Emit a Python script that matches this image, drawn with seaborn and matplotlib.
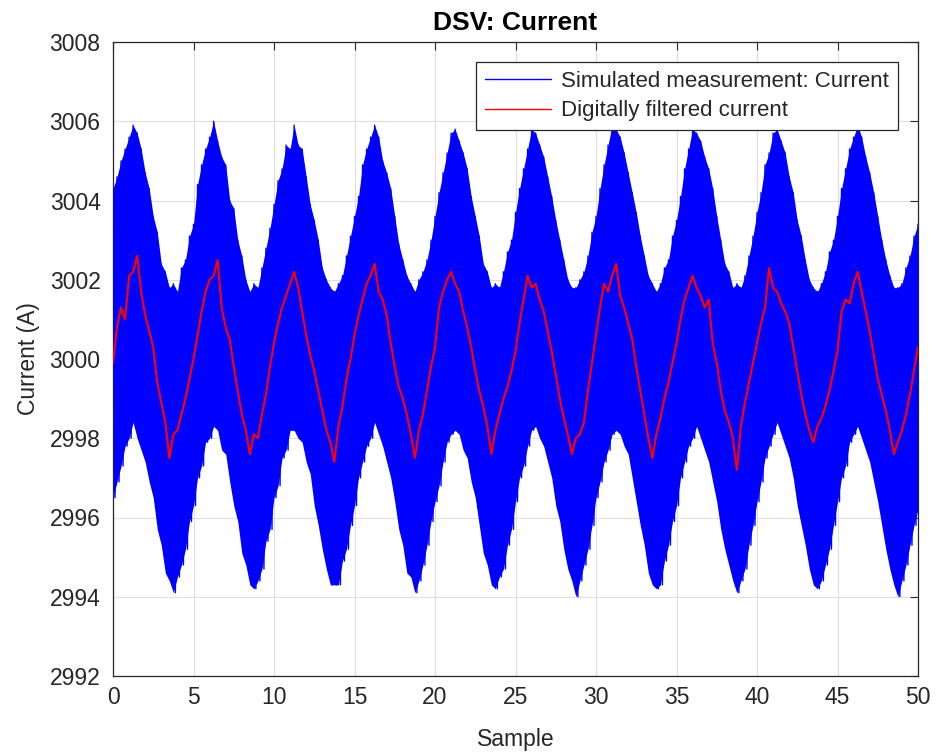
import numpy as np
import pandas as pd
import matplotlib
matplotlib.use("Agg")
import matplotlib.pyplot as plt
import seaborn as sns

# ---------------- data ----------------
sample_step = 0.25  # samples between consecutive envelope / filtered readings

# upper edge of the dense measured signal, x = 0, 0.25, ..., 50
upper_env = [
    3004.3, 3004.6, 3005.0, 3005.3, 3005.6,
    3005.9, 3005.7, 3005.3, 3004.7, 3004.3, 3003.6, 3003.2, 3002.4, 3002.2, 3001.8,
    3001.9, 3001.7, 3002.3, 3002.5, 3003.1, 3003.4, 3004.4, 3004.9, 3005.3, 3005.6,
    3006.0, 3005.5, 3005.1, 3004.9, 3004.0, 3003.8, 3003.0, 3002.6, 3002.0, 3001.7,
    3001.9, 3001.8, 3002.3, 3002.8, 3003.3, 3003.9, 3004.5, 3004.8, 3005.4, 3005.3,
    3005.9, 3005.4, 3005.3, 3004.6, 3003.9, 3003.5, 3003.0, 3002.3, 3002.0, 3001.8,
    3001.7, 3001.9, 3002.1, 3002.6, 3003.1, 3003.6, 3004.1, 3004.9, 3005.3, 3005.6,
    3005.9, 3005.6, 3005.0, 3004.7, 3004.3, 3003.6, 3002.9, 3002.5, 3002.1, 3001.9,
    3001.7, 3002.0, 3002.2, 3002.5, 3003.0, 3003.6, 3004.2, 3004.7, 3005.2, 3005.7,
    3005.8, 3005.5, 3005.2, 3004.8, 3004.1, 3003.6, 3003.1, 3002.4, 3002.2, 3001.8,
    3001.9, 3001.8, 3002.2, 3002.7, 3003.0, 3003.7, 3004.3, 3004.8, 3005.3, 3005.8,
    3005.7, 3005.4, 3005.1, 3004.6, 3004.1, 3003.5, 3003.0, 3002.5, 3002.0, 3001.8,
    3001.8, 3002.0, 3002.2, 3002.6, 3003.2, 3003.6, 3004.3, 3004.9, 3005.4, 3005.9,
    3005.8, 3005.6, 3005.2, 3004.7, 3004.2, 3003.7, 3003.1, 3002.6, 3002.1, 3001.9,
    3001.7, 3001.9, 3002.3, 3002.5, 3003.1, 3003.5, 3004.1, 3004.8, 3005.3, 3005.8,
    3005.7, 3005.5, 3005.1, 3004.8, 3004.3, 3003.6, 3003.0, 3002.4, 3002.2, 3001.8,
    3001.9, 3001.8, 3002.1, 3002.6, 3003.1, 3003.7, 3004.2, 3004.9, 3005.2, 3005.7,
    3005.8, 3005.5, 3005.2, 3004.6, 3004.2, 3003.5, 3003.1, 3002.5, 3002.0, 3001.8,
    3001.7, 3001.9, 3002.2, 3002.7, 3003.0, 3003.6, 3004.3, 3004.8, 3005.3, 3005.6,
    3005.9, 3005.6, 3005.1, 3004.7, 3004.2, 3003.6, 3003.0, 3002.5, 3002.1, 3001.8,
    3001.8, 3001.9, 3002.3, 3002.6, 3003.1, 3003.4,
]

# lower edge of the dense measured signal, x = 0.125, 0.375, ..., 50.125
lower_env = [
    2996.5, 2996.9, 2997.3, 2997.8, 2998.0,
    2998.4, 2998.0, 2997.7, 2997.4, 2996.9, 2996.5, 2995.7, 2995.3, 2994.6, 2994.4,
    2994.1, 2994.5, 2994.8, 2995.2, 2995.9, 2996.3, 2997.0, 2997.3, 2997.9, 2998.0,
    2998.3, 2998.2, 2997.7, 2997.6, 2996.9, 2996.3, 2995.9, 2995.1, 2994.8, 2994.3,
    2994.2, 2994.4, 2994.7, 2995.4, 2995.7, 2996.5, 2996.8, 2997.5, 2997.7, 2998.2,
    2998.2, 2998.0, 2997.9, 2997.4, 2997.1, 2996.3, 2995.8, 2995.2, 2994.7, 2994.3,
    2994.3, 2994.3, 2994.9, 2995.2, 2995.8, 2996.3, 2997.0, 2997.4, 2997.8, 2998.0,
    2998.4, 2998.1, 2997.8, 2997.4, 2997.0, 2996.4, 2995.7, 2995.3, 2994.6, 2994.5,
    2994.1, 2994.4, 2994.8, 2995.3, 2995.9, 2996.4, 2996.8, 2997.4, 2997.9, 2998.1,
    2998.2, 2998.1, 2997.7, 2997.5, 2996.9, 2996.5, 2995.8, 2995.1, 2994.8, 2994.3,
    2994.2, 2994.5, 2994.7, 2995.3, 2995.7, 2996.4, 2997.0, 2997.3, 2997.8, 2998.2,
    2998.3, 2998.0, 2997.8, 2997.4, 2997.0, 2996.3, 2995.9, 2995.2, 2994.7, 2994.4,
    2994.0, 2994.4, 2994.8, 2995.2, 2995.8, 2996.5, 2996.9, 2997.4, 2997.7, 2998.1,
    2998.2, 2998.1, 2997.8, 2997.6, 2997.0, 2996.4, 2995.8, 2995.3, 2994.6, 2994.3,
    2994.2, 2994.3, 2994.9, 2995.3, 2995.9, 2996.3, 2997.0, 2997.4, 2997.8, 2998.0,
    2998.3, 2998.0, 2997.7, 2997.4, 2996.9, 2996.4, 2995.7, 2995.2, 2994.8, 2994.4,
    2994.1, 2994.4, 2994.7, 2995.3, 2995.8, 2996.4, 2996.9, 2997.5, 2997.8, 2998.1,
    2998.4, 2998.1, 2997.8, 2997.5, 2997.0, 2996.3, 2995.8, 2995.3, 2994.7, 2994.3,
    2994.2, 2994.4, 2994.8, 2995.2, 2995.8, 2996.4, 2997.0, 2997.3, 2997.9, 2998.1,
    2998.3, 2998.0, 2997.7, 2997.4, 2996.9, 2996.4, 2995.8, 2995.2, 2994.7, 2994.3,
    2994.0, 2994.4, 2994.8, 2995.3, 2995.8, 2996.2,
]

# digitally filtered current, x = 0, 0.25, ..., 50
filtered = [
    2999.9, 3000.8, 3001.3, 3001.0, 3002.1, 3002.2, 3002.6, 3001.7, 3001.1, 3000.7,
    3000.3, 2999.4, 2998.9, 2998.4, 2997.5, 2998.1, 2998.2, 2998.6, 2999.0, 2999.5,
    3000.0, 3000.6, 3001.2, 3001.7, 3002.0, 3002.1, 3002.5, 3001.3, 3000.8, 3000.5,
    2999.8, 2999.2, 2998.6, 2998.2, 2997.6, 2998.1, 2998.0, 2998.6, 2999.1, 2999.8,
    3000.4, 3000.9, 3001.3, 3001.6, 3001.9, 3002.2, 3001.8, 3001.2, 3000.6, 3000.1,
    2999.7, 2999.2, 2998.7, 2998.2, 2997.9, 2997.4, 2998.3, 2998.8, 2999.5, 3000.0,
    3000.6, 3001.1, 3001.5, 3001.9, 3002.1, 3002.4, 3001.7, 3001.5, 3001.1, 3000.4,
    2999.8, 2999.3, 2999.0, 2998.6, 2998.1, 2997.5, 2998.2, 2998.6, 2999.2, 2999.8,
    3000.3, 3001.3, 3001.7, 3002.0, 3002.2, 3001.9, 3001.7, 3001.2, 3000.8, 3000.3,
    2999.7, 2999.2, 2998.8, 2998.3, 2997.6, 2998.2, 2998.6, 2999.0, 2999.3, 2999.7,
    3000.2, 3000.9, 3001.5, 3002.1, 3001.8, 3001.9, 3001.5, 3001.2, 3000.7, 3000.2,
    2999.6, 2999.0, 2998.5, 2998.1, 2997.6, 2998.0, 2998.1, 2998.4, 2999.2, 2999.9,
    3000.6, 3001.3, 3001.9, 3001.7, 3002.1, 3002.4, 3001.6, 3001.3, 3000.9, 3000.5,
    2999.8, 2999.2, 2998.6, 2998.0, 2997.5, 2998.1, 2998.5, 2999.0, 2999.4, 2999.9,
    3000.4, 3001.0, 3001.5, 3001.8, 3002.1, 3001.8, 3001.6, 3001.3, 3001.5, 3000.4,
    2999.9, 2999.2, 2998.7, 2998.4, 2998.0, 2997.2, 2998.3, 2998.9, 2999.4, 2999.9,
    3000.4, 3000.9, 3001.3, 3002.3, 3001.8, 3001.7, 3001.4, 3001.2, 3000.9, 3000.3,
    2999.7, 2999.1, 2998.6, 2998.2, 2997.9, 2998.3, 2998.5, 2998.8, 2999.2, 2999.7,
    3000.2, 3001.2, 3001.5, 3001.4, 3001.9, 3002.2, 3001.7, 3001.2, 3000.7, 3000.1,
    2999.5, 2999.1, 2998.7, 2998.2, 2997.6, 2997.9, 2998.2, 2998.6, 2999.1, 2999.7,
    3000.3,
]

x_ticks = [0, 5, 10, 15, 20, 25, 30, 35, 40, 45, 50]
y_ticks = [2992, 2994, 2996, 2998, 3000, 3002, 3004, 3006, 3008]

title = "DSV: Current"
x_label = "Sample"
y_label = "Current (A)"
meas_label = "Simulated measurement: Current"
filt_label = "Digitally filtered current"

# ---------------- build tables ----------------
n = len(upper_env)
xs = np.arange(n) * sample_step
# measured signal: alternate between its upper and lower edges (dense oscillation)
x_meas = np.empty(2 * n)
y_meas = np.empty(2 * n)
x_meas[0::2] = xs
x_meas[1::2] = xs + sample_step / 2
y_meas[0::2] = upper_env
y_meas[1::2] = lower_env
df_meas = pd.DataFrame({"Sample": x_meas, "Current": y_meas})
df_filt = pd.DataFrame({"Sample": xs, "Current": filtered})
df_band = pd.DataFrame({"Sample": xs, "upper": upper_env, "lower": lower_env})

# ---------------- style ----------------
sns.set_theme(style="white")
plt.rcParams["font.family"] = ["Liberation Sans", "DejaVu Sans"]
text_col = "#262626"
blue = "#0000ff"
red = "#ff0000"

fig = plt.figure(figsize=(9.36, 7.54), dpi=100)
ax = fig.add_axes([113 / 936, 1 - 676 / 754, 805 / 936, 634 / 754])

# solid body of the dense measured oscillation
ax.fill_between(df_band["Sample"], df_band["lower"], df_band["upper"],
                color=blue, linewidth=0, zorder=2)
sns.lineplot(data=df_meas, x="Sample", y="Current", sort=False, estimator=None,
             color=blue, linewidth=1.0, label=meas_label, ax=ax, zorder=3)
sns.lineplot(data=df_filt, x="Sample", y="Current", sort=False, estimator=None,
             color=red, linewidth=1.5, label=filt_label, ax=ax, zorder=4)

ax.set_xlim(x_ticks[0], x_ticks[-1])
ax.set_ylim(y_ticks[0], y_ticks[-1])
ax.set_xticks(x_ticks)
ax.set_yticks(y_ticks)
ax.set_xticklabels([str(v) for v in x_ticks])
ax.set_yticklabels([str(v) for v in y_ticks])
ax.grid(True, color="#dedede", linewidth=0.8)
ax.set_axisbelow(True)
for s in ax.spines.values():
    s.set_color(text_col)
    s.set_linewidth(0.9)
ax.tick_params(axis="both", direction="in", length=6, width=0.8, top=True, right=True,
               colors=text_col, labelsize=16.5)
ax.tick_params(axis="y", pad=9)
ax.tick_params(axis="x", pad=7)

ax.set_title(title, fontsize=19, fontweight="bold", color="black", pad=9)
ax.set_xlabel(x_label, fontsize=16.5, color=text_col, labelpad=14)
ax.set_ylabel(y_label, fontsize=16.5, color=text_col, labelpad=7)

leg = ax.legend(loc="upper right", bbox_to_anchor=((898 - 113) / 805, (676 - 62) / 634),
                borderaxespad=0, fontsize=16, frameon=True, fancybox=False,
                handlelength=3.0, handletextpad=0.45, labelspacing=0.38,
                borderpad=0.4)
leg.get_frame().set_edgecolor(text_col)
leg.get_frame().set_linewidth(0.9)
leg.get_frame().set_alpha(1)
for line in leg.get_lines():
    line.set_linewidth(1.0)
for t in leg.get_texts():
    t.set_color(text_col)

fig.savefig("out.png", dpi=100)
